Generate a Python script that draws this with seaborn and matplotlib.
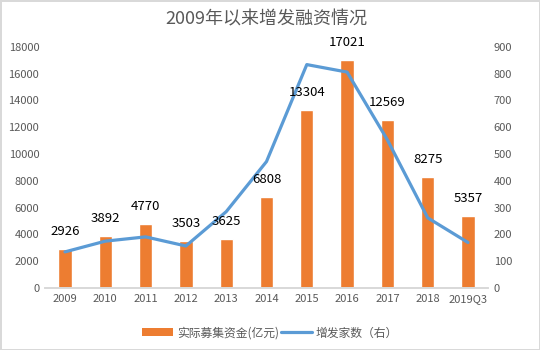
import pandas as pd
import numpy as np
import matplotlib
matplotlib.use("Agg")
import matplotlib.pyplot as plt
import seaborn as sns
from matplotlib.patches import Patch
from matplotlib.lines import Line2D

years = ["2009", "2010", "2011", "2012", "2013", "2014", "2015", "2016", "2017", "2018", "2019Q3"]
funds = [2926, 3892, 4770, 3503, 3625, 6808, 13304, 17021, 12569, 8275, 5357]
companies = [135, 175, 191, 157, 285, 472, 834, 806, 553, 262, 170]

bar_color = "#ED7D31"
line_color = "#5B9BD5"
grey = "#595959"

sns.set_theme(style="white")
plt.rcParams["font.family"] = ["Noto Sans CJK SC", "DejaVu Sans"]

df = pd.DataFrame({"year": years, "funds": funds, "companies": companies})

fig = plt.figure(figsize=(5.4, 3.5), dpi=100)
ax = fig.add_axes([0.083, 0.177, 0.821, 0.689])

sns.barplot(data=df, x="year", y="funds", color=bar_color, width=0.33,
            saturation=1, ax=ax)
ax.set_ylim(0, 18000)
ax.set_yticks(np.arange(0, 18001, 2000))
ax.set_xlabel("")
ax.set_ylabel("")

ax2 = ax.twinx()
sns.lineplot(x=np.arange(len(years)), y=companies, color=line_color,
             linewidth=2.3, ax=ax2)
ax2.set_ylim(0, 900)
ax2.set_yticks(np.arange(0, 901, 100))
ax2.set_xlim(-0.5, len(years) - 0.5)

# data labels drawn on top of the line, positioned in bar coordinates
for i, v in enumerate(funds):
    ax2.annotate(str(v), (i, v), xycoords=ax.transData, xytext=(0, 8),
                 textcoords="offset points", ha="center", va="bottom",
                 fontsize=9.5, color="black", zorder=5)

for a in (ax, ax2):
    for s in ["top", "left", "right"]:
        a.spines[s].set_visible(False)
    a.spines["bottom"].set_color("#D9D9D9")
    a.tick_params(axis="both", length=0, labelsize=8, colors=grey, pad=4)
    a.grid(False)

ax.set_title("2009年以来增发融资情况", fontsize=13, color=grey, pad=16)

handles = [Patch(facecolor=bar_color, edgecolor="none"),
           Line2D([0], [0], color=line_color, linewidth=2.3)]
fig.legend(handles, ["实际募集资金(亿元)", "增发家数（右）"], loc="lower center",
           bbox_to_anchor=(0.5, 0.0), ncol=2, frameon=False, fontsize=8.5,
           labelcolor=grey, handlelength=2.6, columnspacing=0.2, handletextpad=0.3)

fig.patch.set_edgecolor("#D9D9D9")
fig.patch.set_linewidth(1)
fig.savefig("out.png", dpi=100)
